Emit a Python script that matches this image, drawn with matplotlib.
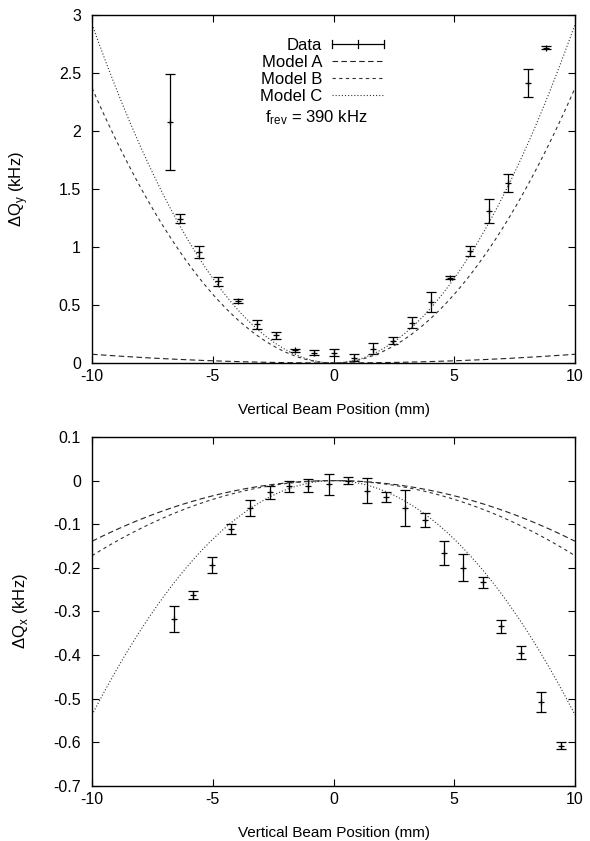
import numpy as np
import matplotlib
matplotlib.use('Agg')
import matplotlib.pyplot as plt
from matplotlib.lines import Line2D
from matplotlib.legend_handler import HandlerBase

plt.rcParams['font.family'] = ['Liberation Sans', 'DejaVu Sans']
plt.rcParams['mathtext.fontset'] = 'custom'
plt.rcParams['mathtext.rm'] = 'Liberation Sans'
plt.rcParams['axes.unicode_minus'] = False
plt.rcParams['font.size'] = 11

# Dados - painel superior (Delta Q_y)
xy = [-6.78, -6.37, -5.58, -4.77, -3.97, -3.18, -2.38, -1.60, -0.79,
      0.0, 0.83, 1.63, 2.45, 3.25, 4.05, 4.83, 5.65, 6.45, 7.23, 8.04, 8.79]
qy = [2.08, 1.245, 0.958, 0.705, 0.535, 0.334, 0.239, 0.109, 0.089,
      0.089, 0.046, 0.124, 0.19, 0.348, 0.526, 0.736, 0.966, 1.31, 1.553, 2.416, 2.718]
qy_err = [0.415, 0.035, 0.05, 0.04, 0.015, 0.04, 0.03, 0.015, 0.02,
          0.03, 0.03, 0.05, 0.03, 0.045, 0.085, 0.012, 0.04, 0.1, 0.075, 0.12, 0.015]

# Dados - painel inferior (Delta Q_x)
xx = [-6.62, -5.82, -5.03, -4.23, -3.45, -2.64, -1.85, -1.05, -0.2,
      0.59, 1.39, 2.19, 2.98, 3.77, 4.56, 5.36, 6.17, 6.94, 7.78, 8.58, 9.41]
qx = [-0.318, -0.262, -0.193, -0.111, -0.062, -0.027, -0.013, -0.012, -0.008,
      0.0, -0.023, -0.038, -0.063, -0.09, -0.166, -0.2, -0.233, -0.334, -0.394, -0.507, -0.608]
qx_err = [0.03, 0.01, 0.018, 0.012, 0.018, 0.015, 0.012, 0.015, 0.024,
          0.008, 0.028, 0.012, 0.042, 0.016, 0.028, 0.031, 0.013, 0.015, 0.015, 0.023, 0.008]

# Modelos: dQ = k * x^2 (kHz/mm^2)
k_y = {'Model A': 0.00075, 'Model B': 0.0237, 'Model C': 0.0292}
k_x = {'Model A': -0.00139, 'Model B': -0.00172, 'Model C': -0.00537}
estilos = {'Model A': (0, (5, 3)), 'Model B': (0, (3, 3)), 'Model C': (0, (1, 1.8))}
cores = {'Model A': '#222222', 'Model B': '#333333', 'Model C': '#333333'}

x = np.linspace(-10, 10, 400)


class HandlerXErr(HandlerBase):
    # amostra da legenda no estilo do gnuplot: |--+--|
    def create_artists(self, legend, orig_handle, xdescent, ydescent,
                       width, height, fontsize, trans):
        x0, x1 = -xdescent, -xdescent + width
        yc = -ydescent + height / 2
        h = height * 0.35
        xm = (x0 + x1) / 2
        kw = dict(color='black', lw=0.9, transform=trans)
        return [Line2D([x0, x1], [yc, yc], **kw),
                Line2D([x0, x0], [yc - h, yc + h], **kw),
                Line2D([x1, x1], [yc - h, yc + h], **kw),
                Line2D([xm, xm], [yc - h, yc + h], **kw)]


def painel(ax, xd, yd, ed, k):
    h_data = ax.errorbar(xd, yd, yerr=ed, fmt='+', color='black', ms=5,
                         mew=0.9, elinewidth=0.9, capsize=3.5, capthick=0.9)
    handles = [h_data]
    for nome, kk in k.items():
        l, = ax.plot(x, kk * x**2, color=cores[nome], lw=0.8,
                     linestyle=estilos[nome], label=nome)
        handles.append(l)
    ax.set_xlim(-10, 10)
    ax.set_xticks([-10, -5, 0, 5, 10])
    ax.tick_params(direction='in', top=True, right=True, length=5, width=0.8,
                   labelsize=11.5)
    ax.tick_params(axis='y', pad=8)
    ax.tick_params(axis='x', pad=4)
    for s in ax.spines.values():
        s.set_linewidth(1.0)
    ax.set_xlabel('Vertical Beam Position (mm)', labelpad=14, fontsize=11)
    ax.yaxis.set_major_formatter(matplotlib.ticker.FormatStrFormatter('%g'))
    ax.xaxis.set_major_formatter(matplotlib.ticker.FormatStrFormatter('%g'))
    return handles


fig = plt.figure(figsize=(5.9, 8.41), dpi=100)
ax1 = fig.add_axes([0.156, 0.5684, 0.8186, 0.4138])
ax2 = fig.add_axes([0.156, 0.0654, 0.8186, 0.4150])

hs = painel(ax1, xy, qy, qy_err, k_y)
ax1.set_ylim(0, 3)
ax1.set_yticks(np.round(np.arange(0, 3.01, 0.5), 2) + 0.0)
ax1.set_ylabel('ΔQ$_\\mathrm{y}$ (kHz)', fontsize=12)
ax1.yaxis.set_label_coords(-0.129, 0.5)

painel(ax2, xx, qx, qx_err, k_x)
ax2.set_ylim(-0.7, 0.1)
ax2.set_yticks(np.round(np.arange(-0.7, 0.101, 0.1), 2) + 0.0)
ax2.set_ylabel('ΔQ$_\\mathrm{x}$ (kHz)', fontsize=12)
ax2.yaxis.set_label_coords(-0.129, 0.5)

ax1.legend(hs, ['Data', 'Model A', 'Model B', 'Model C'],
           handler_map={type(hs[0]): HandlerXErr()},
           loc='upper right', bbox_to_anchor=(0.6046, 0.935),
           frameon=False, markerfirst=False, borderpad=0, borderaxespad=0,
           handlelength=3.1, handletextpad=0.6, labelspacing=0.12,
           fontsize=12)
ax1.text(0.464, 0.704, '$\\mathrm{f_{rev}}$ = 390 kHz', transform=ax1.transAxes,
         ha='center', va='center', fontsize=12)

fig.savefig('out.png', dpi=100)
